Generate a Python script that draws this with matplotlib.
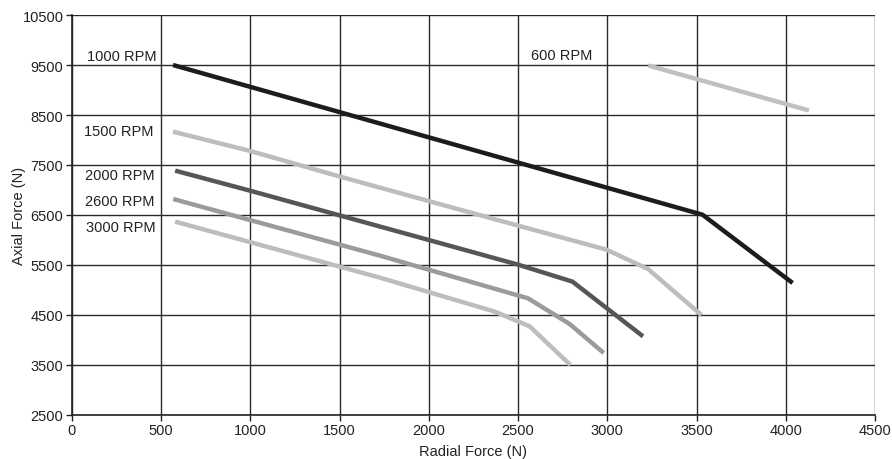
import matplotlib
matplotlib.use("Agg")
import matplotlib.pyplot as plt

plt.rcParams['font.family'] = ['Liberation Sans Narrow', 'Liberation Sans', 'DejaVu Sans']

# curves: radial force (N) -> axial force (N)
rpm600_x = [3230, 4130]
rpm600_y = [9490, 8590]
rpm1000_x = [567, 1500, 3533, 4038]
rpm1000_y = [9500, 8558, 6506, 5140]
rpm1500_x = [567, 1000, 1500, 2398, 2995, 3228, 3527]
rpm1500_y = [8167, 7780, 7270, 6387, 5807, 5420, 4500]
rpm2000_x = [579, 1000, 2500, 2805, 3200]
rpm2000_y = [7387, 6985, 5507, 5167, 4073]
rpm2600_x = [568, 1726, 2556, 2789, 2980]
rpm2600_y = [6820, 5687, 4833, 4320, 3740]
rpm3000_x = [579, 1726, 2370, 2565, 2793]
rpm3000_y = [6367, 5247, 4567, 4273, 3500]

labels = ["600 RPM", "1000 RPM", "1500 RPM", "2000 RPM", "2600 RPM", "3000 RPM"]
label_x = [2575, 477, 455, 466, 466, 472]
label_y = [9706, 9680, 8186, 7300, 6786, 6254]

x_ticks = list(range(0, 4501, 500))
y_ticks = list(range(2500, 10501, 1000))

fig = plt.figure(figsize=(8.92, 4.6), dpi=100)
ax = fig.add_axes([0.0805, 0.0957, 0.9005, 0.8695])

series = [
    (rpm600_x, rpm600_y, "#c0c0c0"),
    (rpm1000_x, rpm1000_y, "#1c1c1c"),
    (rpm1500_x, rpm1500_y, "#bdbdbd"),
    (rpm2000_x, rpm2000_y, "#565656"),
    (rpm2600_x, rpm2600_y, "#9b9b9b"),
    (rpm3000_x, rpm3000_y, "#bdbdbd"),
]
for xs, ys, c in series:
    ax.plot(xs, ys, color=c, lw=3.2, solid_capstyle='butt', solid_joinstyle='miter', zorder=3)

for i, lab in enumerate(labels):
    ha = 'left' if i == 0 else 'right'
    ax.text(label_x[i], label_y[i], lab, ha=ha, va='center', fontsize=10.5, color='#222222')

ax.set_xlim(0, 4500)
ax.set_ylim(2500, 10500)
ax.set_xticks(x_ticks)
ax.set_yticks(y_ticks)
ax.grid(True, color='#2a2a2a', lw=1.0, zorder=1)
ax.set_axisbelow(True)
for s in ['top', 'right']:
    ax.spines[s].set_visible(False)
for s in ['left', 'bottom']:
    ax.spines[s].set_color('#222222')
    ax.spines[s].set_linewidth(1.2)
ax.tick_params(axis='both', length=4, width=1, color='#222222', labelsize=10.5,
               labelcolor='#222222', pad=2)
ax.set_xlabel("Radial Force (N)", fontsize=10.5, color='#222222', labelpad=5)
ax.set_ylabel("Axial Force (N)", fontsize=10.5, color='#222222')
ax.yaxis.set_label_coords(-0.057, 0.5)

fig.savefig("out.png", dpi=100)
